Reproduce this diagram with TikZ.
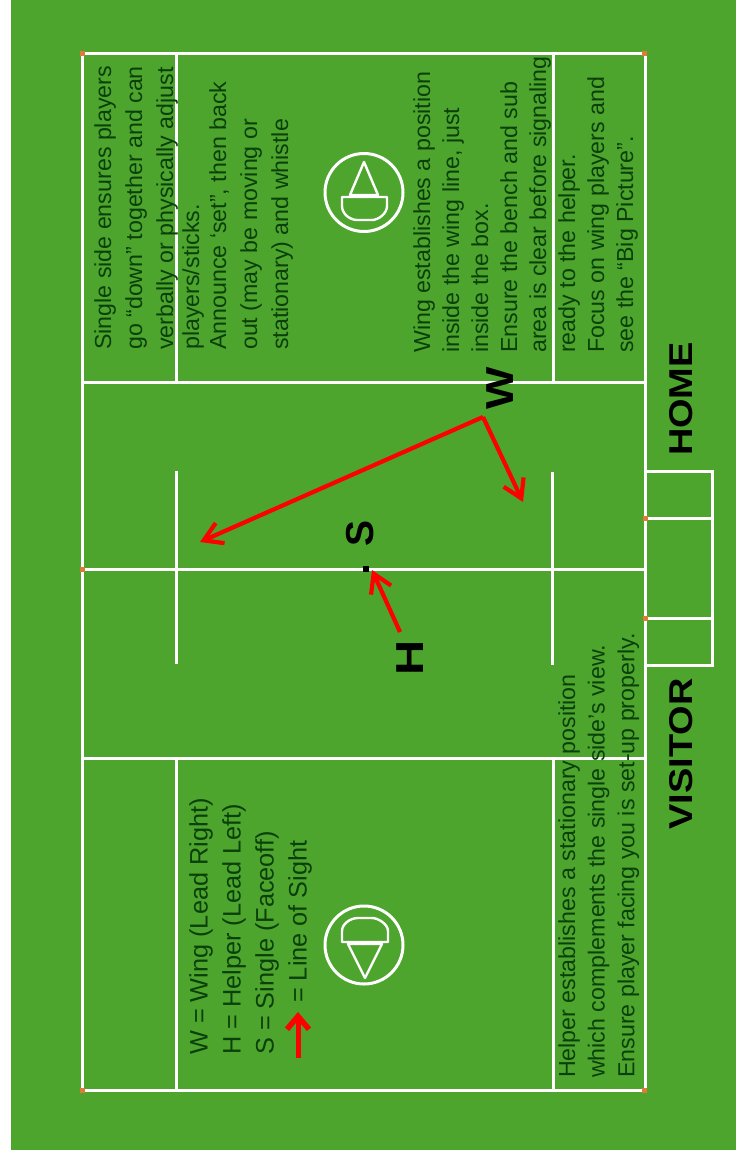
\documentclass[tikz,border=0pt]{standalone}
\usepackage{fontspec}
\setmainfont{Liberation Sans}
\usetikzlibrary{arrows.meta}
\definecolor{turf}{HTML}{4DA52E}
\definecolor{cone}{HTML}{E07A3A}
\definecolor{darkturf}{HTML}{0B400A}
\tikzset{
    field/.style={draw=white, line width=3pt},
    thin field/.style={draw=white, line width=2.4pt, line join=round},
    corner/.style={fill=cone, inner sep=0pt, minimum size=5pt},
    note/.style={rotate=90, anchor=north west, text=darkturf, font=\fontsize{23.2}{29}\selectfont, align=left, inner sep=0pt},
    wide note/.style={note, font=\fontsize{23.2}{31}\selectfont},
    helper note/.style={note, font=\fontsize{23.2}{29.7}\selectfont},
    legend note/.style={note, font=\fontsize{25.3}{33}\selectfont},
    side/.style={rotate=90, xscale=1.15, text=black, font=\fontsize{33}{33}\selectfont\bfseries, inner sep=0pt},
    player/.style={rotate=90, text=black, font=\fontsize{39}{39}\selectfont\bfseries, inner sep=0pt},
    sight/.style={draw=red, line width=4.2pt, -{Straight Barb[length=18pt,width=22pt,line width=4.2pt]}},
    key sight/.style={draw=red, line width=5pt, -{Straight Barb[length=13pt,width=22pt,line width=5.5pt]}}
}
\begin{document}
\begin{tikzpicture}[x=1pt, y=-1pt]
    \useasboundingbox (0,0) rectangle (736,1155);
    \fill[turf] (11,0) rectangle (736,1150);
    % field outline
    \draw[field] (82,54) rectangle (645,1090);
    \draw[field] (82,382) -- (645,382);
    \draw[field] (82,758) -- (645,758);
    \draw[field] (82,569) -- (645,569);
    \draw[field] (176,54) -- (176,382);
    \draw[field] (176,758) -- (176,1090);
    \draw[field] (553,54) -- (553,382);
    \draw[field] (553,758) -- (553,1090);
    \draw[field] (176,471) -- (176,664);
    \draw[field] (552,472) -- (552,665);
    % bench boxes
    \draw[field] (645,471) -- (712,471) -- (712,665) -- (645,665);
    \draw[field] (645,518) -- (712,518);
    \draw[field] (645,618) -- (712,618);
    % corners
    \node (cornerA) [corner] at (82,54) {};
    \node (cornerB) [corner] at (644,54) {};
    \node (cornerC) [corner] at (82,1090) {};
    \node (cornerD) [corner] at (644,1090) {};
    \node (cornerE) [corner] at (82,569) {};
    \node (cornerF) [corner] at (645,518) {};
    \node (cornerG) [corner] at (645,618) {};
    % notes
    \node (single) [wide note] at (94,350) {Single side ensures players\\go “down” together and can\\verbally or physically adjust};
    \node (sticks) [note] at (182,350) {players/sticks.};
    \node (announce) [wide note] at (209,350) {Announce ‘set”, then back\\out (may be moving or\\stationary) and whistle};
    \node (wingnote) [note] at (413,353) {Wing establishes a position\\inside the wing line, just\\inside the box.\\Ensure the bench and sub\\area is clear before signaling};
    \node (ready) [note] at (558,353) {ready to the helper.\\Focus on wing players and\\see the “Big Picture”.};
    \node (legend) [legend note] at (189,1055) {W = Wing (Lead Right)\\H = Helper (Lead Left)\\S = Single (Faceoff)};
    \node (lineofsight) [legend note] at (288,1003) {= Line of Sight};
    \node (helpernote) [helper note] at (558,1078) {Helper establishes a stationary position\\which complements the single side’s view.\\Ensure player facing you is set-up properly.};
    % officials
    \draw[field] (364,192.5) circle (39);
    \draw[thin field] (364,162) -- (350,195) -- (378,195) -- cycle;
    \draw[thin field] (342,197) -- (387,197) -- (387,206) .. controls (387,214) and (378,220) .. (372,220) -- (357,220) .. controls (350,220) and (342,214) .. (342,206) -- cycle;
    \draw[field] (364,945) circle (39);
    \draw[thin field] (365,978) -- (348,944) -- (382,944) -- cycle;
    \draw[thin field] (342,942) -- (388,942) -- (388,931) .. controls (388,924) and (378,918) .. (372,918) -- (358,918) .. controls (350,918) and (342,924) .. (342,931) -- cycle;
    % players
    \node (W) [player, xscale=1.15] at (500,388.5) {W};
    \node (S) [player] at (360,533) {S};
    \node (H) [player, xscale=1.25] at (410,658) {H};
    \node (dot) [fill=black, inner sep=0pt, minimum size=6pt] at (366,569) {};
    \coordinate (wing) at (483,417);
    \coordinate (wingfar) at (200,542);
    \coordinate (wingnear) at (523,502);
    \coordinate (helper) at (400,632);
    \coordinate (faceoff) at (372,570);
    \coordinate (keytail) at (298,1058);
    \coordinate (keytip) at (298,1012);
    \draw[sight] (wing) -- (wingfar);
    \draw[sight] (wing) -- (wingnear);
    \draw[sight] (helper) -- (faceoff);
    \draw[key sight] (keytail) -- (keytip);
    % sides
    \node (home) [side] at (681,399) {HOME};
    \node (visitor) [side] at (681,754) {VISITOR};
\end{tikzpicture}
\end{document}
